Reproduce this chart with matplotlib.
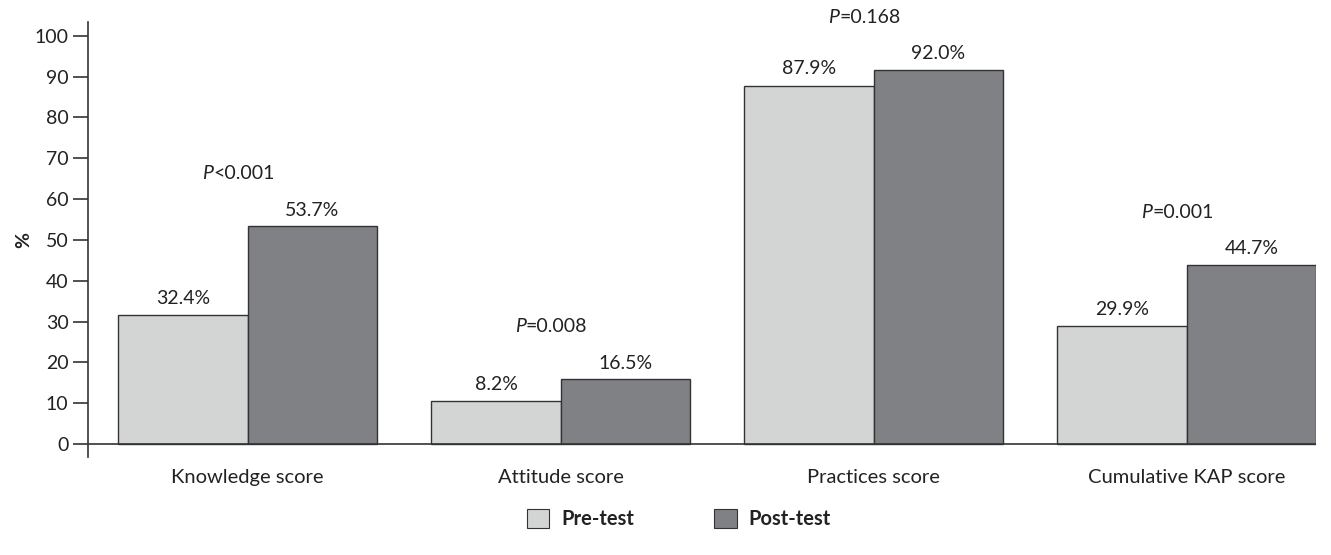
import matplotlib
matplotlib.use("Agg")
import matplotlib.pyplot as plt
from matplotlib.patches import Patch
from matplotlib.offsetbox import TextArea, HPacker, AnnotationBbox
import numpy as np

categories = ["Knowledge score", "Attitude score", "Practices score", "Cumulative KAP score"]
pre_heights = [31.6, 10.5, 87.8, 28.9]
post_heights = [53.4, 15.9, 91.7, 43.9]
pre_labels = ["32.4%", "8.2%", "87.9%", "29.9%"]
post_labels = ["53.7%", "16.5%", "92.0%", "44.7%"]
p_ops = ["<", "=", "=", "="]
p_vals = ["0.001", "0.008", "0.168", "0.001"]
yticks = list(range(0, 101, 10))
series_names = ["Pre-test", "Post-test"]

pre_color = "#d3d5d4"
post_color = "#808184"
edge = "#333333"
txt = "#222222"

plt.rcParams['font.family'] = ['Lato', 'DejaVu Sans']

fig = plt.figure(figsize=(13.31, 5.55), dpi=100)
ax = fig.add_axes([0.0661, 0.1766, 0.9226, 0.7838])

w = 0.413
x = np.arange(len(categories))
ax.bar(x - w/2, pre_heights, w, color=pre_color, edgecolor=edge, linewidth=1.0)
ax.bar(x + w/2, post_heights, w, color=post_color, edgecolor=edge, linewidth=1.0)

fs = 14
for i in range(len(categories)):
    ax.text(x[i] - w/2, pre_heights[i] + 2.0, pre_labels[i], ha='center', va='bottom', fontsize=fs, color=txt)
    ax.text(x[i] + w/2, post_heights[i] + 1.8, post_labels[i], ha='center', va='bottom', fontsize=fs, color=txt)
    ta1 = TextArea("P", textprops=dict(fontsize=fs, style='italic', color=txt))
    ta2 = TextArea(p_ops[i] + p_vals[i], textprops=dict(fontsize=fs, color=txt))
    box = HPacker(children=[ta1, ta2], align="baseline", pad=0, sep=0)
    ab = AnnotationBbox(box, (x[i] - 0.03, post_heights[i] + 12.8), frameon=False,
                        box_alignment=(0.5, 0.5), annotation_clip=False)
    ax.add_artist(ab)

ax.set_xlim(-0.51, x[-1] + w)
ax.set_ylim(-3.2, 103.4)
ax.axhline(0, color=edge, linewidth=1.2, zorder=3)

for s in ['top', 'right', 'bottom']:
    ax.spines[s].set_visible(False)
ax.spines['left'].set_color(edge)
ax.spines['left'].set_linewidth(1.2)

ax.set_yticks(yticks)
ax.set_yticklabels([str(v) for v in yticks], fontsize=fs, color=txt)
ax.tick_params(axis='y', length=11, width=1.2, color=edge, pad=3)
ax.set_xticks(x)
ax.set_xticklabels(categories, fontsize=14.5, color=txt)
ax.tick_params(axis='x', length=0, pad=9)

fig.text(0.0175, 0.567, "%", rotation=90, fontsize=fs, fontweight='bold', ha='center', va='center', color=txt)

handles = [Patch(facecolor=pre_color, edgecolor=edge, linewidth=0.8),
           Patch(facecolor=post_color, edgecolor=edge, linewidth=0.8)]
leg = fig.legend(handles, series_names, loc='center', bbox_to_anchor=(0.51, 0.065), ncol=2, frameon=False,
                 prop=dict(size=14.5, weight='bold'), handlelength=1.1, handleheight=1.1,
                 columnspacing=4.0, handletextpad=0.6)
for t in leg.get_texts():
    t.set_color(txt)

fig.savefig("out.png", dpi=100)
